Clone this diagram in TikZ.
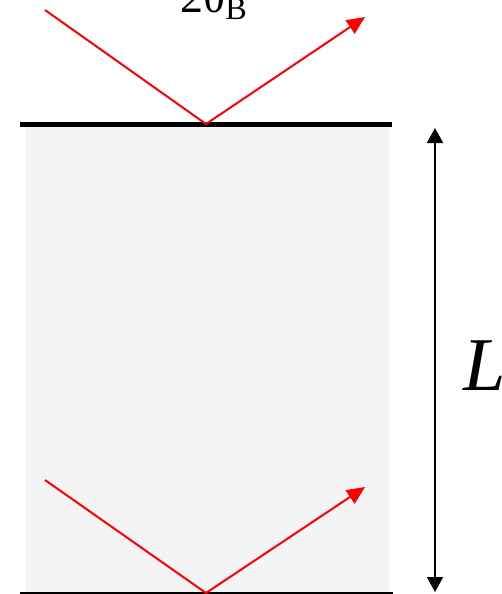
\documentclass[tikz,border=0pt]{standalone}
\usepackage{fontspec}
\setmainfont{Liberation Serif}
\usetikzlibrary{arrows.meta}

\begin{document}
\begin{tikzpicture}[
    x=0.5pt, y=-0.5pt,
    ray/.style={draw=red, line width=1pt, -{Triangle[length=9pt, width=8pt]}},
    span/.style={line width=1pt, {Triangle[length=7.5pt, width=8pt]}-{Triangle[length=7.5pt, width=8pt]}}
]
\useasboundingbox (0,0) rectangle (502,594);
% crystal slab
\fill[gray!9] (26,124) rectangle (389,593);
\coordinate (topL) at (20,124);
\coordinate (topR) at (392,124);
\coordinate (botL) at (20,593);
\coordinate (botR) at (393,593);
\draw[line width=2.5pt] (topL) -- (topR);
\draw[line width=1pt] (botL) -- (botR);
% reflected rays
\coordinate (inTop) at (45,10);
\coordinate (hitTop) at (206,124);
\coordinate (outTop) at (365,17);
\coordinate (inBot) at (45,480);
\coordinate (hitBot) at (206,593);
\coordinate (outBot) at (365,487);
\draw[ray] (inTop) -- (hitTop) -- (outTop);
\draw[ray] (inBot) -- (hitBot) -- (outBot);
\node[anchor=base, font=\fontsize{23pt}{27pt}\selectfont, inner sep=0pt] (angle) at (214,12) {2θ\textsubscript{B}};
% thickness
\coordinate (spanTop) at (435,128);
\coordinate (spanBot) at (435,592);
\draw[span] (spanTop) -- (spanBot);
\node[anchor=base west, font=\fontsize{38pt}{42pt}\selectfont\itshape, inner sep=0pt] (len) at (463,390) {L};
\end{tikzpicture}
\end{document}
